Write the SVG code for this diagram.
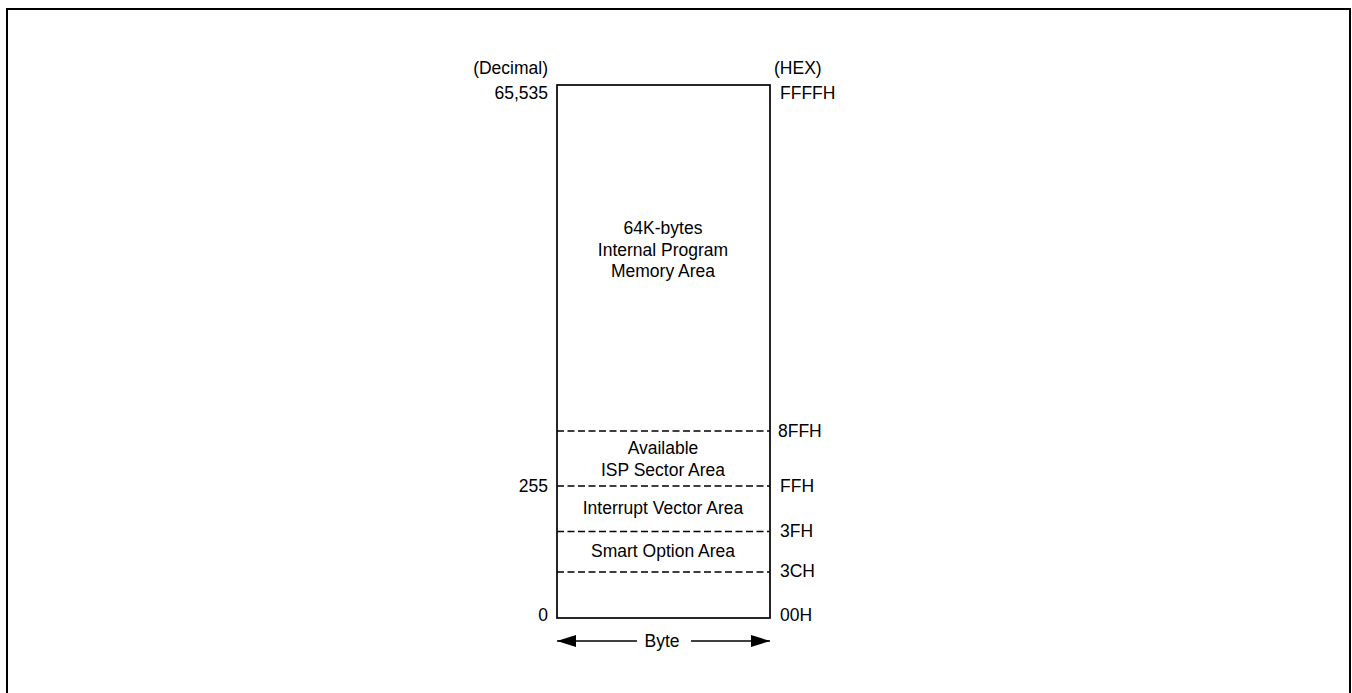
<svg xmlns="http://www.w3.org/2000/svg" width="1352" height="693" viewBox="0 0 1352 693">
<defs>
<style>
text{font-family:"Liberation Sans",Arial,sans-serif;font-size:17.5px;fill:#000}
.c{text-anchor:middle}
.r{text-anchor:end}
.d{stroke:#000;stroke-width:1.3;stroke-dasharray:7,3.5;fill:none}
.s{stroke:#000;stroke-width:1.7;fill:none}
</style>
<marker id="ah" markerWidth="19" markerHeight="12" refX="19" refY="6" orient="auto" markerUnits="userSpaceOnUse">
<path d="M0,0 L19,6 L0,12 Z" fill="#000"/>
</marker>
</defs>
<rect width="1352" height="693" fill="#fff"/>
<path d="M7,700 V9 H1350 V700" fill="none" stroke="#000" stroke-width="2"/>
<g id="memory">
<rect x="557" y="85" width="213" height="533" class="s"/>
<text x="663" y="234" class="c">64K-bytes</text>
<text x="663" y="256" class="c">Internal Program</text>
<text x="663" y="277" class="c">Memory Area</text>
</g>
<g id="isp">
<text x="663" y="454" class="c">Available</text>
<text x="663" y="476" class="c">ISP Sector Area</text>
</g>
<g id="vector"><text x="663" y="514" class="c">Interrupt Vector Area</text></g>
<g id="smart"><text x="663" y="557" class="c">Smart Option Area</text></g>
<g id="connectors">
<line x1="557" y1="431" x2="770" y2="431" class="d"/>
<line x1="557" y1="486" x2="770" y2="486" class="d"/>
<line x1="557" y1="531.5" x2="770" y2="531.5" class="d"/>
<line x1="557" y1="572" x2="770" y2="572" class="d"/>
<line x1="637" y1="641" x2="557" y2="641" stroke="#000" stroke-width="1.3" marker-end="url(#ah)"/>
<line x1="691" y1="641" x2="770" y2="641" stroke="#000" stroke-width="1.3" marker-end="url(#ah)"/>
</g>
<g id="labels">
<text x="548" y="74" class="r">(Decimal)</text>
<text x="548" y="99" class="r">65,535</text>
<text x="548" y="492" class="r">255</text>
<text x="548" y="621" class="r">0</text>
<text x="774" y="74">(HEX)</text>
<text x="780" y="99">FFFFH</text>
<text x="778" y="437">8FFH</text>
<text x="780" y="492">FFH</text>
<text x="780" y="537">3FH</text>
<text x="780" y="577">3CH</text>
<text x="780" y="621">00H</text>
<text x="662" y="647" class="c">Byte</text>
</g>
</svg>
